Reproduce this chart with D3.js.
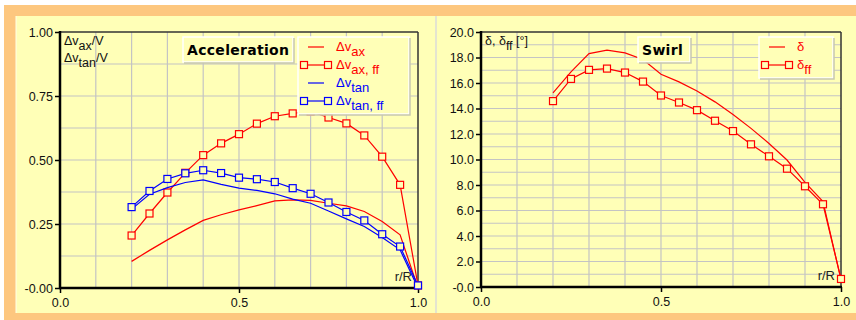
<!DOCTYPE html>
<html>
<head>
<meta charset="utf-8">
<script src="https://cdn.jsdelivr.net/npm/d3@7"></script>
<style>
body { margin: 0; background: #ffffff; }
text { font-family: "Liberation Sans", Arial, sans-serif; }
</style>
</head>
<body>
<svg id="chart" width="856" height="320"></svg>
<script>

// radius stations r/R
var rR = [0.2, 0.25, 0.3, 0.35, 0.4, 0.45, 0.5, 0.55, 0.6, 0.65, 0.7, 0.75, 0.8, 0.85, 0.9, 0.95, 1.0]

// acceleration chart
var dvAx    = [0.104, 0.147, 0.188, 0.227, 0.264, 0.286, 0.305, 0.322, 0.340, 0.344, 0.342, 0.331, 0.321, 0.299, 0.260, 0.208, 0.0]
var dvAxFF  = [0.205, 0.291, 0.373, 0.450, 0.519, 0.565, 0.601, 0.642, 0.671, 0.682, 0.690, 0.666, 0.643, 0.596, 0.513, 0.403, 0.01]
var dvTan   = [0.308, 0.366, 0.392, 0.412, 0.422, 0.405, 0.390, 0.381, 0.368, 0.347, 0.331, 0.301, 0.270, 0.240, 0.197, 0.149, 0.0]
var dvTanFF = [0.316, 0.379, 0.426, 0.448, 0.460, 0.449, 0.431, 0.425, 0.414, 0.390, 0.368, 0.334, 0.297, 0.264, 0.210, 0.162, 0.01]

// swirl chart
var delta   = [15.23, 16.87, 18.30, 18.57, 18.36, 17.84, 16.69, 16.09, 15.38, 14.52, 13.53, 12.44, 11.26, 9.96, 8.21, 6.70, 0.57]
var deltaFF = [14.58, 16.32, 17.03, 17.13, 16.82, 16.11, 15.02, 14.47, 13.87, 13.04, 12.23, 11.19, 10.25, 9.28, 7.90, 6.49, 0.63]

var xTicks = [0, 0.5, 1.0]
var xTickLabels = ["0.0", "0.5", "1.0"]
var accTicks = [0, 0.25, 0.5, 0.75, 1.0]
var accTickLabels = ["-0.00", "0.25", "0.50", "0.75", "1.00"]
var swirlTicks = [0, 2, 4, 6, 8, 10, 12, 14, 16, 18, 20]
var swirlTickLabels = ["-0.0", "2.0", "4.0", "6.0", "8.0", "10.0", "12.0", "14.0", "16.0", "18.0", "20.0"]

var bgYellow = "#ffffb7"
var frameOrange = "#fdc77f"

var svg = d3.select("#chart")

// frame and panels
svg.append("rect").attr("x", 4).attr("y", 5).attr("width", 852).attr("height", 315).attr("fill", frameOrange)
svg.append("rect").attr("x", 16).attr("y", 16).attr("width", 419).attr("height", 297).attr("fill", bgYellow)
svg.append("rect").attr("x", 437).attr("y", 16).attr("width", 419).attr("height", 297).attr("fill", bgYellow)
svg.append("line").attr("x1", 436).attr("x2", 436).attr("y1", 16).attr("y2", 313)
    .attr("stroke", "#e4e4d0").attr("stroke-width", 2)
svg.append("line").attr("x1", 16).attr("x2", 16).attr("y1", 16).attr("y2", 313)
    .attr("stroke", "#ffffe8").attr("stroke-width", 1)

// writes text with subscript parts: [["Δv", false], ["ax", true], ...]
function subText(g, x, y, parts, color, size, weight) {
    var t = g.append("text")
        .attr("x", x).attr("y", y)
        .attr("fill", color)
        .style("font-size", size + "px")
        .style("font-weight", weight || "normal")
    var low = false
    parts.forEach(function(p) {
        var dy = 0
        if (p[1] && !low) { dy = 5; low = true }
        else if (!p[1] && low) { dy = -5; low = false }
        t.append("tspan").attr("dy", dy).text(p[0])
    })
    return t
}

function drawPanel(opt) {

    var g = svg.append("g")

    var xScale = d3.scaleLinear()
        .domain([0, 1])
        .range([opt.left, opt.right])

    var yScale = d3.scaleLinear()
        .domain([0, opt.yMax])
        .range([opt.bottom, opt.top])

    // grid
    g.selectAll(".vgrid").data(d3.range(1, 10).map(function(i) { return i / 10 }))
        .enter().append("line")
        .attr("x1", function(d) { return xScale(d) })
        .attr("x2", function(d) { return xScale(d) })
        .attr("y1", opt.top).attr("y2", opt.bottom)
        .attr("stroke", "#c4c4c4").attr("stroke-width", 1.2)

    var nH = Math.round(opt.yMax / opt.yStep)
    g.selectAll(".hgrid").data(d3.range(1, nH).map(function(i) { return i * opt.yStep }))
        .enter().append("line")
        .attr("x1", opt.left).attr("x2", opt.right)
        .attr("y1", function(d) { return yScale(d) })
        .attr("y2", function(d) { return yScale(d) })
        .attr("stroke", "#c4c4c4").attr("stroke-width", 1.2)

    // axes
    var x_axis = d3.axisBottom(xScale)
        .tickValues(xTicks)
        .tickFormat(function(d, i) { return xTickLabels[i] })
        .tickSize(5).tickSizeOuter(0).tickPadding(5)

    var y_axis = d3.axisLeft(yScale)
        .tickValues(opt.yTicks)
        .tickFormat(function(d, i) { return opt.yLabels[i] })
        .tickSize(5).tickSizeOuter(0).tickPadding(2)

    var xa = g.append("g")
        .attr("transform", "translate(0," + opt.bottom + ")")
        .call(x_axis)
    var ya = g.append("g")
        .attr("transform", "translate(" + opt.left + ",0)")
        .call(y_axis)

    ;[xa, ya].forEach(function(a) {
        a.select(".domain").remove()
        a.selectAll("line").attr("stroke", "#000").attr("stroke-width", 1.5)
        a.selectAll("text")
            .style("font-size", "12.5px")
            .style("font-family", "'Liberation Sans', Arial, sans-serif")
            .attr("fill", "#111")
    })

    // plot border
    g.append("line").attr("x1", opt.left).attr("x2", opt.right).attr("y1", opt.top).attr("y2", opt.top)
        .attr("stroke", "#333").attr("stroke-width", 1.5)
    g.append("line").attr("x1", opt.right).attr("x2", opt.right).attr("y1", opt.top).attr("y2", opt.bottom)
        .attr("stroke", "#333").attr("stroke-width", 1.5)
    g.append("line").attr("x1", opt.left).attr("x2", opt.left).attr("y1", opt.top - 1).attr("y2", opt.bottom + 1)
        .attr("stroke", "#000").attr("stroke-width", 2.5)
    g.append("line").attr("x1", opt.left - 1).attr("x2", opt.right + 1).attr("y1", opt.bottom).attr("y2", opt.bottom)
        .attr("stroke", "#000").attr("stroke-width", 2.5)

    // series
    var line = d3.line()
        .x(function(d, i) { return xScale(rR[i]) })
        .y(function(d) { return yScale(d) })

    opt.series.forEach(function(s) {
        g.append("path")
            .datum(s.values)
            .attr("d", line)
            .attr("fill", "none")
            .attr("stroke", s.color)
            .attr("stroke-width", 1.2)

        if (s.markers) {
            g.selectAll(null).data(s.values)
                .enter().append("rect")
                .attr("x", function(d, i) { return xScale(rR[i]) - 3.5 })
                .attr("y", function(d) { return yScale(d) - 3.5 })
                .attr("width", 7).attr("height", 7)
                .attr("fill", bgYellow)
                .attr("stroke", s.color)
                .attr("stroke-width", 1.2)
        }
    })

    // r/R label
    g.append("text")
        .attr("x", opt.right - 6).attr("y", opt.bottom - 7)
        .attr("text-anchor", "end")
        .attr("fill", "#222")
        .style("font-size", "13px")
        .text("r/R")

    // title box
    var tb = opt.titleBox
    g.append("rect").attr("x", tb[0]).attr("y", tb[1]).attr("width", tb[2]).attr("height", tb[3])
        .attr("fill", bgYellow).attr("stroke", "#ffffff").attr("stroke-width", 1.5)
    g.append("path")
        .attr("d", "M" + (tb[0] + 1) + "," + (tb[1] + tb[3] + 1) + "H" + (tb[0] + tb[2] + 1) + "V" + (tb[1] + 1))
        .attr("fill", "none").attr("stroke", "#c8c8b0").attr("stroke-width", 1.5)
    g.append("text")
        .attr("x", tb[0] + 4).attr("y", tb[1] + 18)
        .attr("fill", "#000")
        .style("font-size", "14px").style("font-weight", "bold")
        .style("letter-spacing", "0.3px")
        .style("font-family", "'DejaVu Sans', Verdana, sans-serif")
        .text(opt.title)

    // legend box
    var lb = opt.legendBox
    g.append("rect").attr("x", lb[0]).attr("y", lb[1]).attr("width", lb[2]).attr("height", lb[3])
        .attr("fill", bgYellow).attr("stroke", "#ffffff").attr("stroke-width", 1.5)
    g.append("path")
        .attr("d", "M" + (lb[0] + 1) + "," + (lb[1] + lb[3] + 1) + "H" + (lb[0] + lb[2] + 1) + "V" + (lb[1] + 1))
        .attr("fill", "none").attr("stroke", "#c8c8b0").attr("stroke-width", 1.5)

    opt.series.forEach(function(s, i) {
        var ly = lb[1] + 10 + i * opt.legendStep
        var lx = lb[0] + opt.legendPad
        if (s.markers) {
            g.append("line").attr("x1", lx - 2).attr("x2", lx + 22).attr("y1", ly).attr("y2", ly)
                .attr("stroke", s.color).attr("stroke-width", 1.2)
            ;[lx - 2, lx + 22].forEach(function(mx) {
                g.append("rect").attr("x", mx - 3.5).attr("y", ly - 3.5).attr("width", 7).attr("height", 7)
                    .attr("fill", bgYellow).attr("stroke", s.color).attr("stroke-width", 1.2)
            })
        } else {
            g.append("line").attr("x1", lx + 2).attr("x2", lx + 18).attr("y1", ly).attr("y2", ly)
                .attr("stroke", s.color).attr("stroke-width", 1.2)
        }
        subText(g, lx + 30, ly + 4, s.label, s.color, 13)
    })

    // axis title inside plot
    opt.yTitle.forEach(function(parts, i) {
        subText(g, opt.left + 4, opt.top + 13 + i * 17, parts, "#111", 12.5)
    })
}

drawPanel({
    left: 60, right: 418, top: 32, bottom: 288,
    yMax: 1.0, yStep: 0.125,
    yTicks: accTicks, yLabels: accTickLabels,
    title: "Acceleration",
    titleBox: [183, 37, 110, 25],
    legendBox: [298, 37, 111, 77],
    legendStep: 18, legendPad: 8,
    yTitle: [[["Δv", false], ["ax", true], ["/V", false]], [["Δv", false], ["tan", true], ["/V", false]]],
    series: [
        { values: dvAx, color: "#ff0000", markers: false, label: [["Δv", false], ["ax", true]] },
        { values: dvAxFF, color: "#ff0000", markers: true, label: [["Δv", false], ["ax, ff", true]] },
        { values: dvTan, color: "#0000ff", markers: false, label: [["Δv", false], ["tan", true]] },
        { values: dvTanFF, color: "#0000ff", markers: true, label: [["Δv", false], ["tan, ff", true]] }
    ]
})

drawPanel({
    left: 481, right: 841, top: 32, bottom: 287,
    yMax: 20, yStep: 1,
    yTicks: swirlTicks, yLabels: swirlTickLabels,
    title: "Swirl",
    titleBox: [638, 37, 52, 25],
    legendBox: [759, 37, 74, 41],
    legendStep: 18, legendPad: 8,
    yTitle: [[["δ, δ", false], ["ff", true], [" [°]", false]]],
    series: [
        { values: delta, color: "#ff0000", markers: false, label: [["δ", false]] },
        { values: deltaFF, color: "#ff0000", markers: true, label: [["δ", false], ["ff", true]] }
    ]
})

</script>
</body>
</html>
